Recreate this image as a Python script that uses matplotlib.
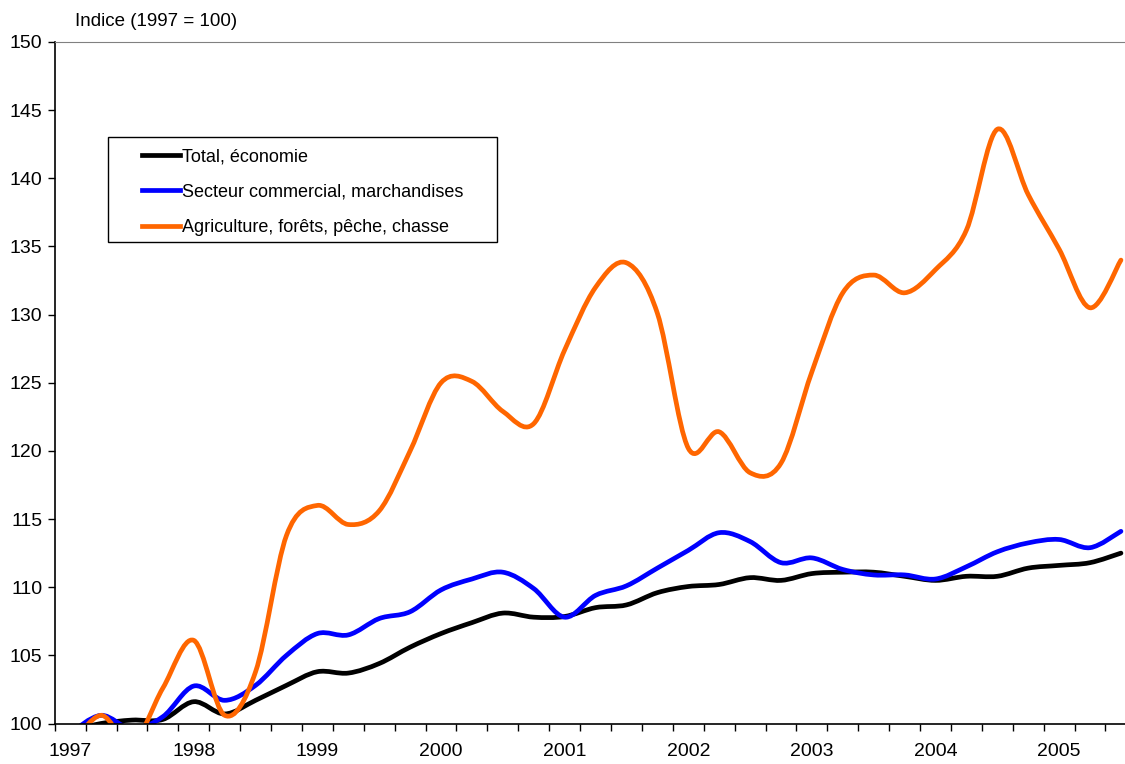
import numpy as np
import matplotlib.pyplot as plt
from matplotlib.path import Path
from matplotlib.patches import PathPatch, Rectangle
from matplotlib.lines import Line2D

plt.rcParams['font.family'] = ['Liberation Sans', 'DejaVu Sans']

# quarterly index values, 1997 Q1 .. 2005 Q3
years = ['1997', '1998', '1999', '2000', '2001', '2002', '2003', '2004', '2005']
total = [99.45, 100.0, 100.25, 100.3, 101.6, 100.7, 101.7, 102.8, 103.8, 103.7,
         104.4, 105.6, 106.6, 107.4, 108.1, 107.8, 107.85, 108.5, 108.7, 109.6,
         110.05, 110.2, 110.7, 110.5, 111.0, 111.1, 111.1, 110.8, 110.5, 110.8,
         110.8, 111.4, 111.6, 111.8, 112.5]
commercial = [99.3, 100.6, 99.6, 100.5, 102.75, 101.7, 102.8, 105.0, 106.6, 106.5,
              107.7, 108.2, 109.8, 110.6, 111.1, 109.9, 107.8, 109.4, 110.1, 111.4,
              112.7, 114.0, 113.35, 111.8, 112.15, 111.3, 110.9, 110.9, 110.6, 111.5,
              112.6, 113.25, 113.5, 112.9, 114.1]
agriculture = [98.3, 100.6, 98.5, 102.6, 106.1, 100.6, 103.8, 113.8, 116.0, 114.6,
               115.6, 120.0, 125.0, 125.1, 122.9, 122.0, 127.4, 132.0, 133.8, 130.1,
               120.2, 121.4, 118.4, 119.1, 125.8, 131.6, 132.9, 131.6, 133.3, 136.2,
               143.6, 138.8, 134.8, 130.5, 134.0]
labels = ['Total, économie', 'Secteur commercial, marchandises',
          'Agriculture, forêts, pêche, chasse']
colors = ['black', '#0000ff', '#ff6600']


def smooth_path(y):
    # excel-style smoothed line: bezier segments through each point
    x = np.arange(len(y), dtype=float)
    pts = np.column_stack([x, np.asarray(y, dtype=float)])
    ext = np.vstack([pts[0], pts, pts[-1]])
    verts = [pts[0]]
    codes = [Path.MOVETO]
    for i in range(len(pts) - 1):
        p0, p1, p2, p3 = ext[i], ext[i + 1], ext[i + 2], ext[i + 3]
        verts += [p1 + (p2 - p0) / 6, p2 - (p3 - p1) / 6, p2]
        codes += [Path.CURVE4] * 3
    return Path(verts, codes)


fig = plt.figure(figsize=(11.25, 7.64), dpi=100)
ax = fig.add_axes([54.7 / 1125, 40.5 / 764, (1136.4 - 54.7) / 1125, 681.5 / 764])

handles = []
for series, color, label in zip([total, commercial, agriculture], colors, labels):
    ax.add_patch(PathPatch(smooth_path(series), fill=False, edgecolor=color,
                           lw=3.4, joinstyle='round', capstyle='round'))
    handles.append(Line2D([], [], color=color, lw=3.4, label=label))

n = len(total)
ax.set_xlim(-0.5, n - 0.5)
ax.set_ylim(100, 150)
ax.set_yticks(np.arange(100, 151, 5))

# year labels at first quarter, ticks between quarters
ax.set_xticks(np.arange(0, n, 4))
ax.set_xticklabels(years)
ax.set_xticks(np.arange(-0.5, n, 1), minor=True)
ax.tick_params(axis='x', which='major', length=0, pad=14, labelsize=14)
ax.tick_params(axis='x', which='minor', length=5, width=1, direction='out')
ax.tick_params(axis='y', length=5, width=1, direction='out', labelsize=14, pad=4)

ax.spines['right'].set_visible(False)
ax.spines['top'].set_color('#808080')
ax.spines['left'].set_linewidth(1.2)
ax.spines['bottom'].set_linewidth(1.2)

fig.text(75 / 1125, 1 - 21 / 764, 'Indice (1997 = 100)', fontsize=13.5, va='center', ha='left')

# legend box
fig.patches.append(Rectangle((108 / 1125, 1 - 242 / 764), 389 / 1125, 105 / 764,
                             transform=fig.transFigure, fill=False, edgecolor='black',
                             lw=1, zorder=5))
fig.legend(handles=handles, loc='upper left', bbox_to_anchor=(133 / 1125, 1 - 139 / 764),
           frameon=False, fontsize=13, borderpad=0, handlelength=2.1,
           handletextpad=0.12, labelspacing=1.03)

fig.savefig('out.png', dpi=100)
